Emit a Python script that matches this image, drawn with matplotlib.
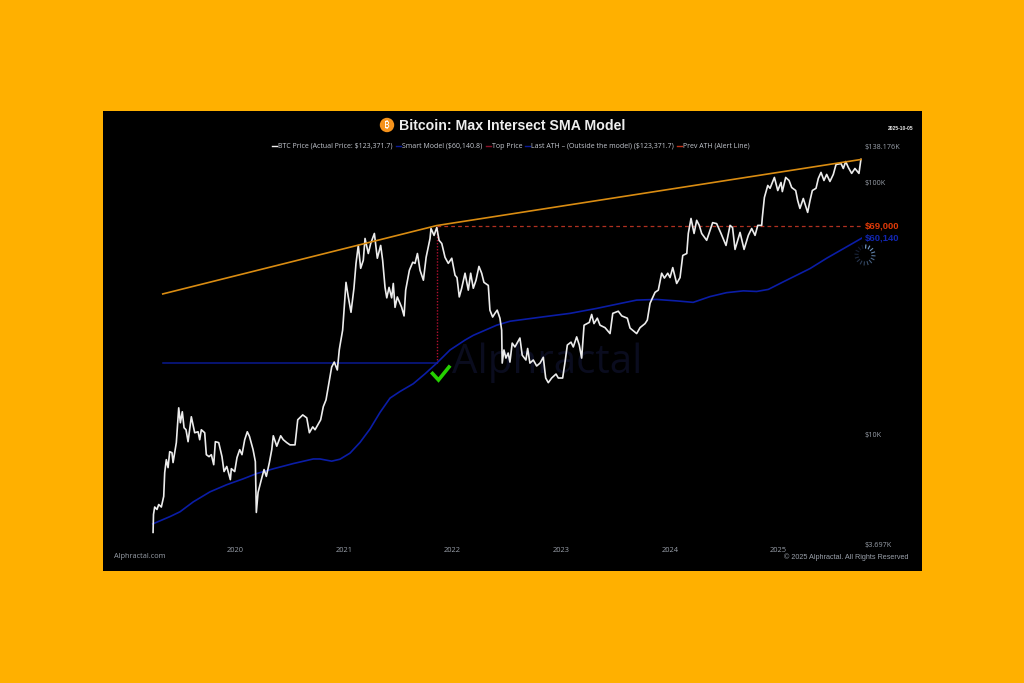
import numpy as np
import matplotlib
matplotlib.use("Agg")
import matplotlib.pyplot as plt
from matplotlib.lines import Line2D
from matplotlib.patches import Rectangle, Ellipse

# BTC price (decimal year, USD)
price_years = [
    2019.246, 2019.250, 2019.261, 2019.282, 2019.298, 2019.322, 2019.344, 2019.353, 2019.368, 2019.384,
    2019.399, 2019.420, 2019.430, 2019.460, 2019.482, 2019.497, 2019.515, 2019.531, 2019.549, 2019.568,
    2019.598, 2019.629, 2019.660, 2019.675, 2019.690, 2019.721, 2019.736, 2019.761, 2019.782, 2019.804,
    2019.819, 2019.850, 2019.880, 2019.899, 2019.924, 2019.957, 2019.966, 2019.997, 2020.018, 2020.043,
    2020.064, 2020.089, 2020.113, 2020.133, 2020.166, 2020.187, 2020.196, 2020.212, 2020.242, 2020.267,
    2020.288, 2020.316, 2020.338, 2020.352, 2020.384, 2020.420, 2020.444, 2020.476, 2020.506, 2020.552,
    2020.577, 2020.623, 2020.660, 2020.684, 2020.715, 2020.736, 2020.788, 2020.812, 2020.837, 2020.867,
    2020.889, 2020.913, 2020.941, 2020.959, 2020.965, 2020.990, 2021.021, 2021.042, 2021.067, 2021.094,
    2021.113, 2021.134, 2021.156, 2021.180, 2021.196, 2021.226, 2021.248, 2021.282, 2021.309, 2021.340,
    2021.358, 2021.380, 2021.396, 2021.417, 2021.441, 2021.456, 2021.472, 2021.493, 2021.533, 2021.555,
    2021.570, 2021.604, 2021.635, 2021.656, 2021.678, 2021.702, 2021.733, 2021.758, 2021.794, 2021.803,
    2021.831, 2021.856, 2021.877, 2021.902, 2021.932, 2021.962, 2021.994, 2022.024, 2022.042, 2022.063,
    2022.085, 2022.116, 2022.146, 2022.168, 2022.192, 2022.217, 2022.244, 2022.269, 2022.290, 2022.330,
    2022.345, 2022.370, 2022.391, 2022.412, 2022.437, 2022.453, 2022.458, 2022.474, 2022.492, 2022.513,
    2022.529, 2022.550, 2022.575, 2022.621, 2022.642, 2022.676, 2022.692, 2022.713, 2022.744, 2022.775,
    2022.806, 2022.836, 2022.858, 2022.882, 2022.913, 2022.953, 2022.974, 2023.014, 2023.036, 2023.057,
    2023.091, 2023.112, 2023.143, 2023.167, 2023.189, 2023.211, 2023.259, 2023.281, 2023.302, 2023.333,
    2023.358, 2023.404, 2023.450, 2023.475, 2023.526, 2023.558, 2023.609, 2023.634, 2023.695, 2023.726,
    2023.772, 2023.793, 2023.818, 2023.864, 2023.894, 2023.925, 2023.950, 2023.981, 2024.002, 2024.027,
    2024.063, 2024.094, 2024.119, 2024.156, 2024.170, 2024.195, 2024.223, 2024.247, 2024.271, 2024.293,
    2024.339, 2024.360, 2024.394, 2024.431, 2024.471, 2024.517, 2024.554, 2024.577, 2024.600, 2024.646,
    2024.683, 2024.722, 2024.753, 2024.784, 2024.809, 2024.845, 2024.851, 2024.870, 2024.901, 2024.922,
    2024.962, 2024.993, 2025.023, 2025.035, 2025.066, 2025.097, 2025.121, 2025.158, 2025.176, 2025.197,
    2025.228, 2025.268, 2025.290, 2025.311, 2025.345, 2025.366, 2025.391, 2025.418, 2025.443, 2025.473,
    2025.504, 2025.529, 2025.575, 2025.596, 2025.618, 2025.642, 2025.673, 2025.703, 2025.740, 2025.758,
]
price_values = [
    4110, 4840, 5180, 5065, 5300, 5180, 5710, 7090, 7980, 7420,
    8580, 8500, 7770, 9320, 12800, 11170, 12350, 10680, 10480, 9400,
    11800, 10200, 10290, 9570, 10480, 10200, 8350, 8200, 8350, 7620,
    9400, 9320, 8200, 7160, 7500, 6650, 7350, 7160, 8130, 8740,
    8350, 9570, 10290, 9860, 8740, 7840, 4930, 5920, 6650, 7290,
    6850, 7770, 8740, 9920, 9020, 9920, 9570, 9320, 9130, 9130,
    11480, 12000, 11680, 10200, 10760, 10480, 11480, 12940, 13760, 16350,
    18570, 19430, 18080, 21700, 22530, 26000, 40200, 35200, 30600, 38100,
    47800, 56300, 45700, 49200, 60000, 52300, 57300, 62800, 50100, 56300,
    49200, 38400, 34900, 38400, 34900, 39800, 32000, 35200, 32000, 29600,
    37450, 44900, 48300, 47800, 52300, 44900, 41000, 50500, 60000, 65700,
    61700, 66300, 59000, 57300, 50500, 47800, 50100, 42900, 42000, 35200,
    38100, 43700, 37450, 43700, 38100, 41000, 46500, 43700, 40200, 39100,
    31200, 29300, 30300, 31200, 29000, 26000, 19250, 21700, 20150, 21100,
    19430, 23100, 22300, 24200, 20700, 19800, 22000, 19250, 19800, 18750,
    19250, 20300, 16800, 16100, 16800, 17420, 16800, 16800, 19430, 22700,
    23300, 22300, 24450, 22700, 20150, 27200, 27900, 30000, 27600, 29000,
    27200, 26600, 25200, 30300, 30900, 29600, 29000, 26500, 25200, 26600,
    27600, 28500, 33200, 36700, 37450, 43700, 41800, 43700, 42000, 46000,
    39800, 42000, 51400, 52300, 62800, 72000, 62800, 70800, 67600, 62800,
    59000, 62800, 69300, 68700, 62800, 56300, 67600, 66300, 54300, 63400,
    54300, 61700, 65700, 61700, 67600, 67600, 72700, 87200, 97300, 94800,
    104700, 92900, 100000, 92000, 104700, 101800, 95500, 92900, 84900, 78900,
    86400, 76100, 84900, 92900, 94800, 103700, 109600, 101800, 107600, 100900,
    107600, 117800, 118800, 113600, 121000, 114700, 108600, 113600, 108600, 123371.7,
]

# Smart Model line
sma_years = [
    2019.243, 2019.403, 2019.494, 2019.616, 2019.770, 2019.924, 2020.076, 2020.200, 2020.352, 2020.536,
    2020.720, 2020.782, 2020.889, 2020.965, 2021.058, 2021.150, 2021.242, 2021.334, 2021.426, 2021.518,
    2021.640, 2021.748, 2021.856, 2021.978, 2022.116, 2022.192, 2022.407, 2022.530, 2022.834, 2023.082,
    2023.327, 2023.542, 2023.695, 2023.879, 2024.063, 2024.215, 2024.369, 2024.522, 2024.676, 2024.799,
    2024.906, 2025.044, 2025.290, 2025.443, 2025.627, 2025.765,
]
sma_values = [
    4440, 4750, 4960, 5430, 5950, 6350, 6700, 7030, 7340, 7700,
    8030, 8030, 7870, 8010, 8470, 9340, 10560, 12280, 13990, 14860,
    15950, 17460, 19250, 21700, 23750, 24800, 27200, 28200, 29350, 30300,
    31700, 33150, 34200, 34400, 33950, 33500, 35300, 36600, 37200, 37000,
    37700, 40400, 45600, 50100, 55600, 60140.8,
]

# Top line through the two peaks, crossing level, previous ATH level
top_years = [2019.335, 2021.856, 2025.762]
top_values = [36170, 67500, 123371.7]
cross_year = 2021.856
cross_value = 19250
cross_start = 2019.335
prev_ath_level = 67500

y_ticks = [3697, 10000, 100000, 138176]
y_labels = ["$3.697K", "$10K", "$100K", "$138.176K"]
x_ticks = [2020, 2021, 2022, 2023, 2024, 2025]

legend_items = [
    ("BTC Price (Actual Price: $123,371.7)", "#f0f0f0", 272),
    ("Smart Model ($60,140.8)", "#0a1a9a", 396),
    ("Top Price", "#8a1028", 486),
    ("Last ATH – (Outside the model) ($123,371.7)", "#0a1a9a", 525),
    ("Prev ATH (Alert Line)", "#c03018", 677),
]

W, H = 1024, 683
GREY = "#9aa0aa"
UI_FONT = ["Open Sans", "DejaVu Sans"]
HEAD_FONT = ["Liberation Sans", "DejaVu Sans"]
COIN_FONT = ["Noto Sans", "Roboto", "Inter", "Lato", "Open Sans", "Liberation Sans", "Noto Sans CJK SC", "DejaVu Sans"]


def fx(px):
    return px / W


def fy(py):
    return 1 - py / H


fig = plt.figure(figsize=(W / 100, H / 100), dpi=100, facecolor="#ffb000")

# black card
fig.add_artist(Rectangle((fx(103), fy(571)), fx(921.5) - fx(103), fy(111) - fy(571),
                         transform=fig.transFigure, facecolor="black", edgecolor="none", zorder=0))

ax = fig.add_axes([fx(146), fy(544), fx(862) - fx(146), fy(147) - fy(544)])
ax.patch.set_alpha(0)
ax.set_yscale("log")
ax.set_xlim(2019.181, 2025.768)
ax.set_ylim(3697, 138176)
for s in ax.spines.values():
    s.set_visible(False)

ax.text(2022.87, 19300, "Alphractal", color="#0a0c1e", fontsize=29, family=UI_FONT,
        ha="center", va="center", zorder=1)

ax.plot([cross_start, cross_year], [cross_value, cross_value], color="#0a1a90", lw=1.1, zorder=2)
ax.plot([cross_year, cross_year], [cross_value, prev_ath_level], color="#b01030", lw=1.0, ls=(0, (1, 1.2)), zorder=2)
ax.plot([cross_year, top_years[-1]], [prev_ath_level, prev_ath_level], color="#b03020", lw=0.9, ls=(0, (3, 2.5)), zorder=2)
ax.plot(sma_years, sma_values, color="#0b1da6", lw=1.2, zorder=3)
ax.plot(price_years, price_values, color="#ececec", lw=1.2, zorder=4)
ax.plot(top_years, top_values, color="#d98c12", lw=1.2, zorder=5)

ax.yaxis.tick_right()
ax.set_yticks(y_ticks)
ax.set_yticklabels(y_labels)
ax.minorticks_off()
ax.tick_params(axis="y", length=0, pad=2, labelsize=5.2, labelcolor=GREY)
ax.set_xticks(x_ticks)
ax.set_xticklabels([str(t) for t in x_ticks])
ax.tick_params(axis="x", length=0, pad=2, labelsize=5.4, labelcolor=GREY)
for lab in ax.get_xticklabels() + ax.get_yticklabels():
    lab.set_family(UI_FONT)

ax.annotate("$69,000", xy=(1, prev_ath_level), xycoords=("axes fraction", "data"), xytext=(2, 0),
            textcoords="offset points", color="#e03a08", fontsize=6.8, fontweight="bold",
            family=HEAD_FONT, va="center")
ax.annotate("$60,140", xy=(1, sma_values[-1]), xycoords=("axes fraction", "data"), xytext=(2, 0),
            textcoords="offset points", color="#1226b0", fontsize=6.8, fontweight="bold",
            family=HEAD_FONT, va="center")

# title and bitcoin badge
fig.add_artist(Ellipse((fx(387), fy(125)), 14.4 / W, 14.4 / H, transform=fig.transFigure,
                       facecolor="#f5921b", edgecolor="none", zorder=3))
fig.text(fx(387), fy(125.3), "₿", color="white", fontsize=7, fontweight="bold",
         family=COIN_FONT, ha="center", va="center", zorder=4)
fig.text(fx(399), fy(125.5), "Bitcoin: Max Intersect SMA Model", color="#eeeeee", fontsize=10.15,
         fontweight="bold", family=HEAD_FONT, ha="left", va="center")
fig.text(fx(913), fy(129), "2025-10-05", color="#e8e8e8", fontsize=3.6, fontweight="bold",
         family=HEAD_FONT, ha="right", va="center")

# legend is one row of dash + text
for label, col, x0 in legend_items:
    fig.add_artist(Line2D([fx(x0), fx(x0 + 4.5)], [fy(146), fy(146)], color=col, lw=1.0,
                          transform=fig.transFigure))
    fig.text(fx(x0 + 6), fy(146), label, color="#c4c8d0", fontsize=5.0, family=UI_FONT,
             ha="left", va="center")

fig.text(fx(114), fy(557), "Alphractal.com", color=GREY, fontsize=5.3, family=UI_FONT, ha="left", va="center")
fig.text(fx(908), fy(557), "© 2025 Alphractal. All Rights Reserved", color=GREY, fontsize=5.2,
         family=HEAD_FONT, ha="right", va="center")

# green check below the crossing
fig.add_artist(Line2D([fx(432.5), fx(438.5), fx(449)], [fy(373.5), fy(380), fy(367)], color="#25d000", lw=2.6,
                      transform=fig.transFigure, solid_joinstyle="miter"))

# loading spinner, fades clockwise from top right
angles = np.deg2rad(85 - np.arange(16) * 22.5)
shades = np.linspace(1, 0, 16) ** 1.5
for a, sh in zip(angles, shades):
    col = (0.06 + 0.44 * sh, 0.09 + 0.58 * sh, 0.16 + 0.70 * sh)
    fig.add_artist(Line2D([fx(865 + 7 * np.cos(a)), fx(865 + 10 * np.cos(a))],
                          [fy(255 - 7 * np.sin(a)), fy(255 - 10 * np.sin(a))],
                          color=col, lw=0.8, transform=fig.transFigure))

fig.savefig("out.png", dpi=100, facecolor=fig.get_facecolor())
